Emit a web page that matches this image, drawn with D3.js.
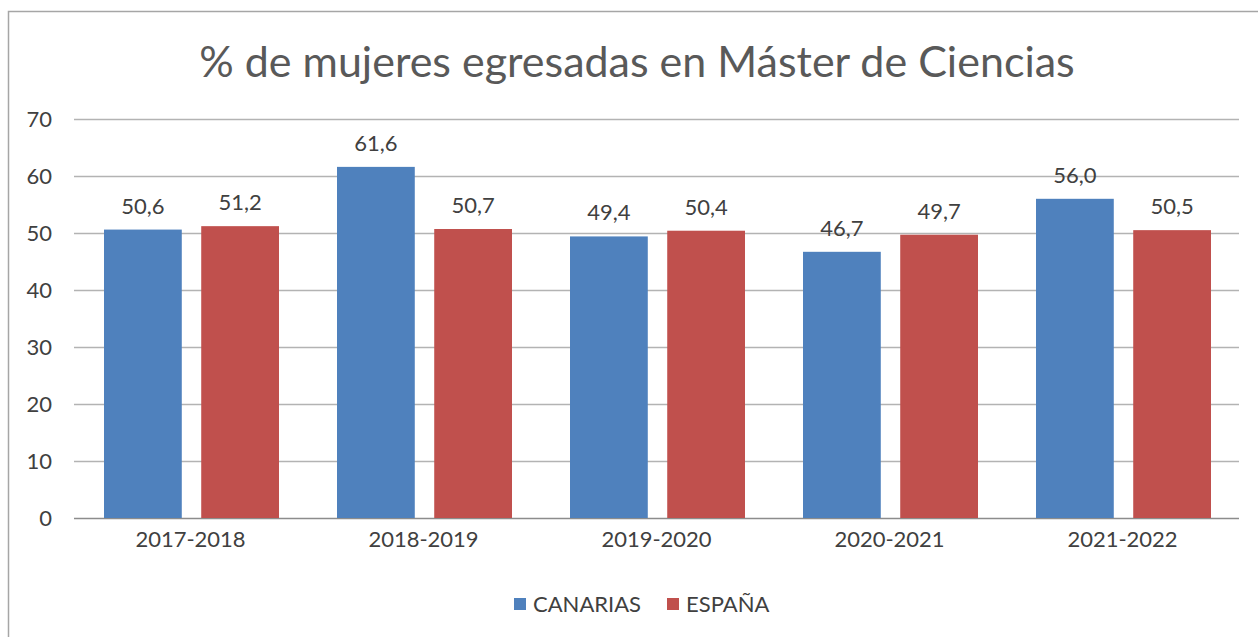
<!DOCTYPE html>
<html>
<head>
<meta charset="utf-8">
<script src="https://cdn.jsdelivr.net/npm/d3@7"></script>
<style>
  body { margin: 0; background: #fff; }
  svg text { font-family: Lato, "Open Sans", sans-serif; }
</style>
</head>
<body>
<div id="chart"></div>
<script>
var categories = ["2017-2018", "2018-2019", "2019-2020", "2020-2021", "2021-2022"];
var seriesNames = ["CANARIAS", "ESPAÑA"];
var canarias = [50.6, 61.6, 49.4, 46.7, 56.0];
var espana = [51.2, 50.7, 50.4, 49.7, 50.5];
var yTicks = [0, 10, 20, 30, 40, 50, 60, 70];

var width = 1258, height = 637;
var margin = {top: 119, right: 19, bottom: 119, left: 74};
var pltwidth = width - margin.left - margin.right,
    pltheight = height - margin.top - margin.bottom;

var colors = {"CANARIAS": "#4f81bd", "ESPAÑA": "#c0504d"};

var svg = d3.select("#chart").append("svg")
    .attr("width", width)
    .attr("height", height);

// chart frame
svg.append("rect")
    .attr("x", 8.5).attr("y", 11.5)
    .attr("width", width + 10).attr("height", height + 10)
    .attr("fill", "none")
    .attr("stroke", "#a6a6a6")
    .attr("stroke-width", 1.5);

svg.append("text")
    .attr("x", 637).attr("y", 77)
    .attr("text-anchor", "middle")
    .style("font-size", "43px")
    .style("fill", "#595959")
    .text("% de mujeres egresadas en Máster de Ciencias");

var g = svg.append("g")
    .attr("transform", "translate(" + margin.left + "," + margin.top + ")");

var x0 = d3.scaleBand()
    .domain(categories)
    .range([0, pltwidth])
    .paddingInner(0)
    .paddingOuter(0);

var x1 = d3.scaleBand()
    .domain(seriesNames)
    .range([30, x0.bandwidth() - 28])
    .paddingInner(0.2);

var yScale = d3.scaleLinear()
    .domain([0, 70])
    .range([pltheight, 0]);

// gridlines
g.selectAll(".grid")
    .data(yTicks)
  .enter().append("line")
    .attr("class", "grid")
    .attr("x1", 0).attr("x2", pltwidth)
    .attr("y1", function(d) { return Math.round(yScale(d)) + 0.5; })
    .attr("y2", function(d) { return Math.round(yScale(d)) + 0.5; })
    .attr("stroke", function(d) { return d === 0 ? "#8c8c8c" : "#b3b3b3"; })
    .attr("stroke-width", 1.5);

// y labels
var yAxis = g.append("g")
    .call(d3.axisLeft(yScale).tickValues(yTicks).tickSize(0).tickPadding(22));
yAxis.select(".domain").remove();
yAxis.selectAll("text")
    .style("font-family", "Lato, sans-serif")
    .style("font-size", "22px")
    .style("fill", "#404040");

// x labels
var xAxis = g.append("g")
    .attr("transform", "translate(0," + pltheight + ")")
    .call(d3.axisBottom(x0).tickSize(0).tickPadding(13));
xAxis.select(".domain").remove();
xAxis.selectAll("text")
    .style("font-family", "Lato, sans-serif")
    .style("font-size", "22px")
    .style("fill", "#404040");

var rows = categories.map(function(c, i) {
  return {cat: c, values: [{name: "CANARIAS", v: canarias[i]}, {name: "ESPAÑA", v: espana[i]}]};
});

var f = function(v) { return v.toFixed(1).replace(".", ","); };

var groups = g.selectAll(".group")
    .data(rows)
  .enter().append("g")
    .attr("class", "group")
    .attr("transform", function(d) { return "translate(" + x0(d.cat) + ",0)"; });

groups.selectAll("rect")
    .data(function(d) { return d.values; })
  .enter().append("rect")
    .attr("x", function(d) { return x1(d.name); })
    .attr("width", x1.bandwidth())
    .attr("y", function(d) { return yScale(d.v); })
    .attr("height", function(d) { return pltheight - yScale(d.v); })
    .attr("fill", function(d) { return colors[d.name]; });

groups.selectAll(".lbl")
    .data(function(d) { return d.values; })
  .enter().append("text")
    .attr("class", "lbl")
    .attr("x", function(d) { return x1(d.name) + x1.bandwidth() / 2; })
    .attr("y", function(d) { return yScale(d.v) - 16; })
    .attr("text-anchor", "middle")
    .style("font-size", "22px")
    .style("fill", "#404040")
    .text(function(d) { return f(d.v); });

// legend
var legend = svg.append("g");
var legX = [514, 667];
seriesNames.forEach(function(name, i) {
  legend.append("rect")
      .attr("x", legX[i]).attr("y", 598)
      .attr("width", 12).attr("height", 12)
      .attr("fill", colors[name]);
  legend.append("text")
      .attr("x", legX[i] + 19).attr("y", 612)
      .style("font-size", "22px")
      .style("fill", "#404040")
      .text(name);
});
</script>
</body>
</html>
